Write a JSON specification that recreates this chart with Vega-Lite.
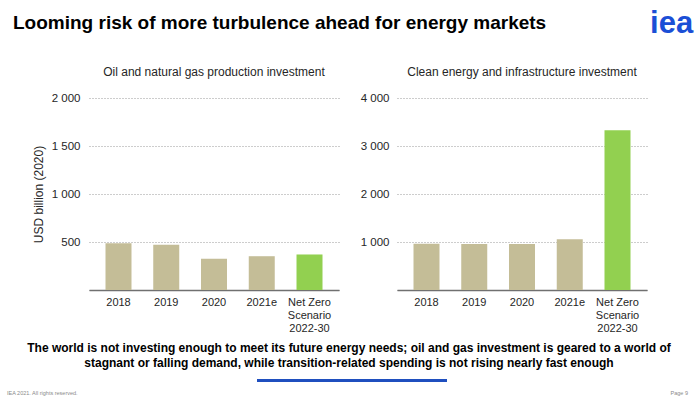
{
  "$schema": "https://vega.github.io/schema/vega-lite/v6.json",
  "background": "white",
  "padding": {"left": 7, "top": 8, "right": 0, "bottom": 0},
  "config": {
    "font": "Liberation Sans",
    "view": {"stroke": null},
    "axis": {"labelFont": "Liberation Sans", "titleFont": "Liberation Sans"}
  },
  "title": {
    "text": "iea",
    "orient": "right",
    "anchor": "start",
    "angle": 0,
    "align": "left",
    "baseline": "top",
    "dy": -5,
    "offset": -81,
    "fontSize": 31,
    "fontWeight": "bold",
    "color": "#1b4fd6"
  },
  "vconcat": [
    {
      "title": {
        "text": "Looming risk of more turbulence ahead for energy markets",
        "anchor": "start",
        "frame": "bounds",
        "baseline": "alphabetic",
        "offset": 18,
        "dx": 6,
        "fontSize": 19,
        "fontWeight": "bold",
        "color": "#000000"
      },
      "spacing": 5,
      "vconcat": [
        {
          "spacing": 21,
          "title": {
            "text": [
              "The world is not investing enough to meet its future energy needs; oil and gas investment is geared to a world of",
              "stagnant or falling demand, while transition-related spending is not rising nearly fast enough"
            ],
            "orient": "bottom",
            "fontSize": 12,
            "fontWeight": "bold",
            "color": "#000000",
            "lineHeight": 15,
            "baseline": "top",
            "offset": 10,
            "anchor": "middle",
            "frame": "bounds",
            "dx": 9.5
          },
          "hconcat": [
            {
              "width": 250,
              "height": 192,
              "title": {
                "text": "Oil and natural gas production investment",
                "fontSize": 12,
                "fontWeight": "normal",
                "color": "#262626",
                "baseline": "alphabetic",
                "offset": 4,
                "anchor": "middle",
                "frame": "group"
              },
              "data": {
                "values": [
                  {"period": "2018", "value": 488, "type": "Historical"},
                  {"period": "2019", "value": 472, "type": "Historical"},
                  {"period": "2020", "value": 325, "type": "Historical"},
                  {"period": "2021e", "value": 352, "type": "Historical"},
                  {"period": "Net Zero Scenario 2022-30", "value": 370, "type": "Net Zero"}
                ]
              },
              "mark": {"type": "bar"},
              "encoding": {
                "x": {
                  "field": "period",
                  "type": "nominal",
                  "sort": null,
                  "scale": {"paddingInner": 0.4555, "paddingOuter": 0.3455},
                  "axis": {
                    "title": null,
                    "labelAngle": 0,
                    "labelFontSize": 11,
                    "labelColor": "#262626",
                    "labelPadding": 6,
                    "labelBaseline": "top",
                    "labelLineHeight": 13,
                    "ticks": false,
                    "tickSize": 0,
                    "domainColor": "#707070",
                    "domainWidth": 1.5,
                    "labelExpr": "datum.label == 'Net Zero Scenario 2022-30' ? ['Net Zero', 'Scenario', '2022-30'] : datum.label"
                  }
                },
                "y": {
                  "field": "value",
                  "type": "quantitative",
                  "scale": {"domain": [0, 2000]},
                  "axis": {
                    "title": "USD billion (2020)",
                    "titleFontSize": 12,
                    "titleFontWeight": "normal",
                    "titleColor": "#262626",
                    "titlePadding": 7,
                    "values": [0, 500, 1000, 1500, 2000],
                    "labelExpr": "datum.value == 0 ? '' : replace(format(datum.value, ','), ',', ' ')",
                    "labelFontSize": 11.5,
                    "labelColor": "#262626",
                    "labelPadding": 9,
                    "ticks": false,
                    "tickSize": 0,
                    "domain": false,
                    "grid": true,
                    "gridDash": [1, 2],
                    "gridColor": "#9a9a9a",
                    "gridWidth": 1,
                    "minExtent": 37,
                    "maxExtent": 37
                  }
                },
                "color": {
                  "field": "type",
                  "type": "nominal",
                  "scale": {"domain": ["Historical", "Net Zero"], "range": ["#c4bd97", "#92d050"]},
                  "legend": null
                }
              }
            },
            {
              "width": 250,
              "height": 192,
              "title": {
                "text": "Clean energy and infrastructure investment",
                "fontSize": 12,
                "fontWeight": "normal",
                "color": "#262626",
                "baseline": "alphabetic",
                "offset": 4,
                "anchor": "middle",
                "frame": "group"
              },
              "data": {
                "values": [
                  {"period": "2018", "value": 965, "type": "Historical"},
                  {"period": "2019", "value": 960, "type": "Historical"},
                  {"period": "2020", "value": 960, "type": "Historical"},
                  {"period": "2021e", "value": 1056, "type": "Historical"},
                  {"period": "Net Zero Scenario 2022-30", "value": 3330, "type": "Net Zero"}
                ]
              },
              "mark": {"type": "bar"},
              "encoding": {
                "x": {
                  "field": "period",
                  "type": "nominal",
                  "sort": null,
                  "scale": {"paddingInner": 0.4555, "paddingOuter": 0.3455},
                  "axis": {
                    "title": null,
                    "labelAngle": 0,
                    "labelFontSize": 11,
                    "labelColor": "#262626",
                    "labelPadding": 6,
                    "labelBaseline": "top",
                    "labelLineHeight": 13,
                    "ticks": false,
                    "tickSize": 0,
                    "domainColor": "#707070",
                    "domainWidth": 1.5,
                    "labelExpr": "datum.label == 'Net Zero Scenario 2022-30' ? ['Net Zero', 'Scenario', '2022-30'] : datum.label"
                  }
                },
                "y": {
                  "field": "value",
                  "type": "quantitative",
                  "scale": {"domain": [0, 4000]},
                  "axis": {
                    "title": null,
                    "values": [0, 1000, 2000, 3000, 4000],
                    "labelExpr": "datum.value == 0 ? '' : replace(format(datum.value, ','), ',', ' ')",
                    "labelFontSize": 11.5,
                    "labelColor": "#262626",
                    "labelPadding": 8,
                    "ticks": false,
                    "tickSize": 0,
                    "domain": false,
                    "grid": true,
                    "gridDash": [1, 2],
                    "gridColor": "#9a9a9a",
                    "gridWidth": 1,
                    "minExtent": 36,
                    "maxExtent": 36
                  }
                },
                "color": {
                  "field": "type",
                  "type": "nominal",
                  "scale": {"domain": ["Historical", "Net Zero"], "range": ["#c4bd97", "#92d050"]},
                  "legend": null
                }
              }
            }
          ]
        },
        {
          "spacing": 0,
          "hconcat": [
            {
              "width": 168,
              "height": 3,
              "title": {
                "text": "IEA 2021. All rights reserved.",
                "orient": "bottom",
                "anchor": "start",
                "frame": "group",
                "dx": -82,
                "offset": 7,
                "baseline": "middle",
                "fontSize": 5.5,
                "fontWeight": "normal",
                "color": "#8a8a8a"
              },
              "data": {"values": [{"note": ""}]},
              "mark": {"type": "text"},
              "encoding": {"text": {"field": "note"}}
            },
            {
              "width": 190,
              "height": 3,
              "view": {"fill": "#1f4fbf", "stroke": null},
              "title": {
                "text": "Page 9",
                "orient": "bottom",
                "anchor": "end",
                "frame": "group",
                "dx": 241,
                "offset": 7,
                "baseline": "middle",
                "fontSize": 5.5,
                "fontWeight": "normal",
                "color": "#8a8a8a"
              },
              "data": {"values": [{"note": ""}]},
              "mark": {"type": "text"},
              "encoding": {"text": {"field": "note"}}
            }
          ]
        }
      ]
    }
  ]
}
